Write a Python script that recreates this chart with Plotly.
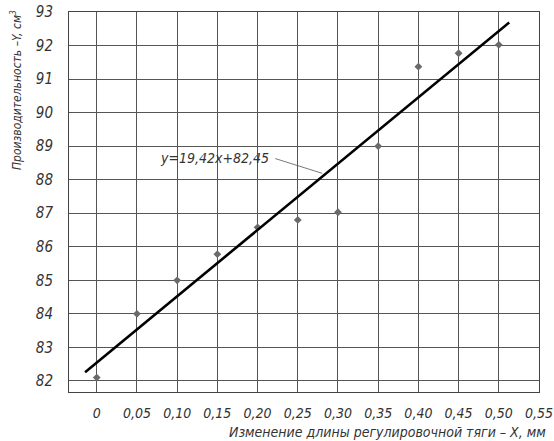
import plotly.graph_objects as go

# Data
x_vals = [0.00, 0.05, 0.10, 0.15, 0.20, 0.25, 0.30, 0.35, 0.40, 0.45, 0.50]
y_vals = [82.1, 84.0, 85.0, 85.78, 86.58, 86.8, 87.03, 89.0, 91.37, 91.77, 92.02]

line_x = [-0.0145, 0.513]
line_y = [82.26, 92.69]

x_ticks = [0.00, 0.05, 0.10, 0.15, 0.20, 0.25, 0.30, 0.35, 0.40, 0.45, 0.50, 0.55]
x_tick_labels = ["0", "0,05", "0,10", "0,15", "0,20", "0,25", "0,30", "0,35", "0,40", "0,45", "0,50", "0,55"]
y_ticks = [82, 83, 84, 85, 86, 87, 88, 89, 90, 91, 92, 93]

equation_text = "y=19,42x+82,45"
x_title = "Изменение длины регулировочной тяги – X, мм"
y_title = "Производительность –Y, см<sup>3</sup>"

FONT = "DejaVu Sans Condensed, Liberation Sans Narrow, sans-serif"
TXT = "#333333"

W, H = 554, 441
L, R, T, B = 69, 15, 12, 49
plot_w = W - L - R
plot_h = H - T - B

fig = go.Figure()
fig.add_trace(go.Scatter(
    x=x_vals, y=y_vals, mode="markers",
    marker=dict(symbol="diamond", size=6, color="#6a6a6a"),
    showlegend=False, hoverinfo="skip"))
fig.add_trace(go.Scatter(
    x=line_x, y=line_y, mode="lines",
    line=dict(color="#000000", width=2.6),
    showlegend=False, hoverinfo="skip"))

# Leader line for the equation
fig.add_shape(type="line", x0=0.222, y0=88.63, x1=0.2804, y1=88.19,
              line=dict(color="#555555", width=0.8), xref="x", yref="y")
fig.add_annotation(x=0.147, y=88.66, xref="x", yref="y", text=equation_text,
                   showarrow=False, font=dict(family=FONT, size=14, color=TXT, style="italic"))

# Axis titles (positions in paper coords computed from pixels)
fig.add_annotation(x=(548 - L) / plot_w, y=(H - B - 432) / plot_h, xref="paper", yref="paper",
                   text=x_title, showarrow=False, xanchor="right", yanchor="middle",
                   font=dict(family=FONT, size=14, color=TXT, style="italic"))
fig.add_annotation(x=(16 - L) / plot_w, y=(H - B - 90) / plot_h, xref="paper", yref="paper",
                   text=y_title, showarrow=False, textangle=-90,
                   xanchor="center", yanchor="middle",
                   font=dict(family=FONT, size=12, color=TXT, style="italic"))

fig.update_layout(
    width=W, height=H,
    margin=dict(l=L, r=R, t=T, b=B),
    paper_bgcolor="white", plot_bgcolor="white",
    xaxis=dict(range=[-0.0345, 0.55], tickvals=x_ticks, ticktext=x_tick_labels,
               showgrid=True, gridcolor="#555555", gridwidth=1,
               zeroline=False, showline=True, linecolor="#444444", linewidth=1, mirror=True,
               ticks="", ticklabelstandoff=8, automargin=False,
               tickfont=dict(family=FONT, size=14, color=TXT, style="italic")),
    yaxis=dict(range=[81.67, 93], tickvals=y_ticks,
               showgrid=True, gridcolor="#555555", gridwidth=1,
               zeroline=False, showline=True, linecolor="#444444", linewidth=1, mirror=True,
               ticks="", ticklabelstandoff=12, automargin=False,
               tickfont=dict(family=FONT, size=15, color=TXT, style="italic")),
)

fig.write_html("out.html", config={"displayModeBar": False},
               post_script="document.body.style.margin='0';document.body.style.padding='0';")
